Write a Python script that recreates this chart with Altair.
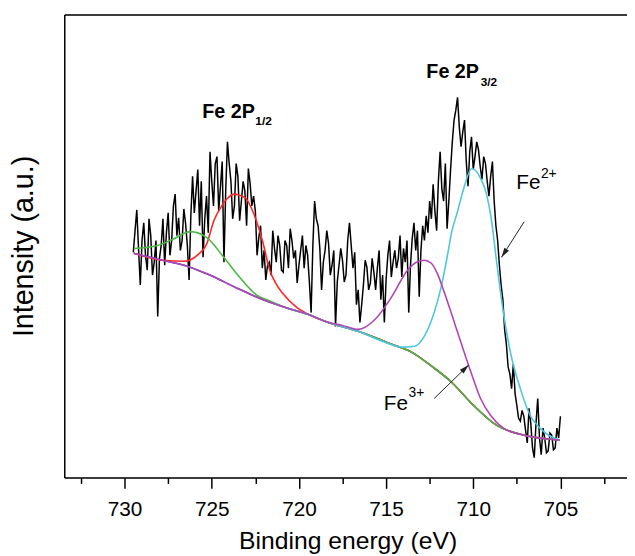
import altair as alt
import pandas as pd

FONT = "Liberation Sans"

# ---- measured spectrum (binding energy in eV, intensity in a.u.) ----
spec_energy = [
    729.5, 729.4, 729.3, 729.2, 729.1, 729.0, 728.9, 728.8, 728.7, 728.6,
    728.5, 728.4, 728.3, 728.2, 728.1, 728.0, 727.9, 727.8, 727.7, 727.6,
    727.5, 727.4, 727.3, 727.2, 727.1, 727.0, 726.9, 726.8, 726.7, 726.6,
    726.5, 726.4, 726.3, 726.2, 726.1, 726.0, 725.9, 725.8, 725.7, 725.6,
    725.5, 725.4, 725.3, 725.2, 725.1, 725.0, 724.9, 724.8, 724.7, 724.6,
    724.5, 724.4, 724.3, 724.2, 724.1, 724.0, 723.9, 723.8, 723.7, 723.6,
    723.5, 723.4, 723.3, 723.2, 723.1, 723.0, 722.9, 722.8, 722.7, 722.6,
    722.5, 722.4, 722.3, 722.2, 722.1, 722.0, 721.9, 721.8, 721.7, 721.6,
    721.5, 721.4, 721.3, 721.2, 721.1, 721.0, 720.9, 720.8, 720.7, 720.6,
    720.5, 720.4, 720.3, 720.2, 720.1, 720.0, 719.9, 719.8, 719.7, 719.6,
    719.5, 719.4, 719.3, 719.2, 719.1, 719.0, 718.9, 718.8, 718.7, 718.6,
    718.5, 718.4, 718.3, 718.2, 718.1, 718.0, 717.9, 717.8, 717.7, 717.6,
    717.5, 717.4, 717.3, 717.2, 717.1, 717.0, 716.9, 716.8, 716.7, 716.6,
    716.5, 716.4, 716.3, 716.2, 716.1, 716.0, 715.9, 715.8, 715.7, 715.6,
    715.5, 715.4, 715.3, 715.2, 715.1, 715.0, 714.9, 714.8, 714.7, 714.6,
    714.5, 714.4, 714.3, 714.2, 714.1, 714.0, 713.9, 713.8, 713.7, 713.6,
    713.5, 713.4, 713.3, 713.2, 713.1, 713.0, 712.9, 712.8, 712.7, 712.6,
    712.5, 712.4, 712.3, 712.2, 712.1, 712.0, 711.9, 711.8, 711.7, 711.6,
    711.5, 711.4, 711.3, 711.2, 711.1, 711.0, 710.9, 710.8, 710.7, 710.6,
    710.5, 710.4, 710.3, 710.2, 710.1, 710.0, 709.9, 709.8, 709.7, 709.6,
    709.5, 709.4, 709.3, 709.2, 709.1, 709.0, 708.9, 708.8, 708.7, 708.6,
    708.5, 708.4, 708.3, 708.2, 708.1, 708.0, 707.9, 707.8, 707.7, 707.6,
    707.5, 707.4, 707.3, 707.2, 707.1, 707.0, 706.9, 706.8, 706.7, 706.6,
    706.5, 706.4, 706.3, 706.2, 706.1, 706.0, 705.9, 705.8, 705.7, 705.6,
    705.5, 705.4, 705.3, 705.2, 705.1, 705.0,
]
spec_intensity = [
    228, 250, 271, 232, 195, 240, 258, 225, 210, 262,
    245, 205, 218, 240, 163, 222, 235, 262, 215, 248,
    268, 225, 240, 275, 287, 245, 263, 230, 240, 272,
    257, 235, 200, 265, 305, 268, 290, 312, 255, 300,
    223, 262, 285, 248, 330, 300, 275, 318, 325, 270,
    295, 320, 218, 290, 340, 318, 300, 262, 275, 318,
    305, 260, 280, 300, 290, 255, 313, 298, 275, 285,
    270, 225, 243, 255, 212, 230, 200, 215, 218, 205,
    250, 232, 218, 245, 235, 210, 208, 240, 235, 212,
    252, 240, 222, 230, 197, 215, 230, 245, 212, 235,
    225, 198, 167, 235, 280, 262, 255, 232, 190, 218,
    230, 250, 237, 205, 215, 230, 153, 198, 215, 232,
    220, 198, 205, 240, 258, 235, 212, 228, 175, 190,
    157, 175, 195, 220, 213, 190, 197, 222, 208, 190,
    212, 230, 180, 205, 157, 200, 225, 240, 203, 218,
    230, 212, 222, 245, 203, 232, 218, 240, 167, 215,
    242, 258, 230, 250, 183, 230, 255, 240, 265, 248,
    280, 262, 297, 270, 250, 300, 330, 292, 280, 318,
    252, 280, 312, 340, 362, 372, 385, 355, 335, 350,
    362, 320, 295, 330, 345, 312, 325, 340, 332, 315,
    302, 325, 318, 300, 285, 305, 320, 280, 255, 240,
    215, 195, 180, 150, 135, 112, 105, 90, 115, 85,
    73, 60, 57, 68, 62, 48, 35, 70, 55, 30,
    20, 55, 80, 40, 23, 50, 40, 25, 27, 45,
    43, 28, 30, 50, 40, 62,
]

# ---- fitted curves ----
base_energy = [729.47, 727.83, 726.24, 725.11, 723.58, 722.05, 720.74, 719.44, 718.47, 716.60, 714.68, 713.54, 712.41, 711.27, 709.98, 708.67, 707.14, 705.04]
base_intensity = [227, 220, 213, 205, 192, 180, 172, 165, 158, 148, 135, 127, 113, 97, 73, 53, 43, 38]

green_energy = [729.47, 728.11, 727.26, 726.24, 725.28, 724.31, 723.41, 722.44, 721.71, 720.74, 719.44, 718.47, 716.60, 714.68, 713.54, 712.41, 711.27, 709.98, 708.67, 707.14, 705.04]
green_intensity = [232, 235, 241, 249, 243, 223, 203, 185, 179, 172, 165, 158, 148, 135, 127, 113, 97, 73, 53, 43, 38]

red_energy = [729.47, 727.83, 726.58, 725.84, 725.28, 724.88, 724.43, 724.14, 723.69, 723.29, 723.01, 722.73, 722.44, 722.05, 721.71, 721.31, 720.91, 720.18, 719.44, 718.47, 716.60, 714.68, 713.54, 712.41, 711.27, 709.98, 708.67, 707.14, 705.04]
red_intensity = [227, 220, 219, 225, 237, 260, 275, 282, 287, 285, 282, 273, 260, 237, 212, 196, 186, 173, 165, 158, 148, 135, 127, 113, 97, 73, 53, 43, 38]

cyan_energy = [720.74, 719.44, 718.47, 716.60, 715.07, 714.11, 713.37, 712.81, 712.24, 711.84, 711.50, 711.22, 710.94, 710.54, 710.09, 709.58, 709.24, 708.95, 708.67, 708.27, 707.87, 707.30, 706.74, 706.17, 705.60, 705.04]
cyan_intensity = [172, 165, 158, 148, 137, 132, 133, 143, 167, 193, 223, 250, 267, 293, 313, 303, 287, 260, 220, 167, 127, 90, 63, 50, 42, 38]

purple_energy = [729.47, 727.83, 726.24, 725.11, 723.58, 722.05, 720.74, 719.44, 718.47, 717.51, 716.60, 715.64, 714.68, 713.77, 713.26, 712.81, 712.41, 712.07, 711.67, 711.27, 710.71, 710.14, 709.58, 709.01, 708.27, 707.14, 705.04]
purple_intensity = [227, 220, 213, 205, 192, 180, 172, 165, 158, 154, 150, 160, 183, 210, 218, 220, 217, 207, 188, 167, 137, 107, 80, 63, 50, 43, 38]

# ---- annotations ----
peak_labels = ["Fe 2P", "Fe 2P"]
peak_label_energy = [725.55, 712.69]
peak_label_intensity = [364, 405]
peak_sub = ["1/2", "3/2"]
peak_sub_energy = [722.50, 709.57]
peak_sub_intensity = [357, 397]

ion_labels = ["Fe", "Fe"]
ion_label_energy = [707.53, 715.13]
ion_label_intensity = [292, 68]
ion_sup = ["2+", "3+"]
ion_sup_energy = [706.12, 713.71]
ion_sup_intensity = [303, 82]

arrow_tail_energy = [707.08, 712.24]
arrow_tail_intensity = [259, 80]
arrow_head_energy = [708.38, 710.26]
arrow_head_intensity = [223, 114]
arrow_angle = [212.6, 45.8]

all_ticks = [732.5, 730, 727.5, 725, 722.5, 720, 717.5, 715, 712.5, 710, 707.5, 705, 702.5]

x_domain = [733.46, 701.18]
y_domain = [0, 469]

xs = alt.Scale(domain=x_domain, nice=False, zero=False)
ys = alt.Scale(domain=y_domain, nice=False, zero=False)

y_axis = alt.Axis(
    title="Intensity (a.u.)", labels=False, ticks=False, grid=False,
    domain=True, domainColor="black", domainWidth=1.5,
    titleFont=FONT, titleFontSize=29, titleFontWeight="normal", titleColor="black",
    titleX=-32, titleY=234.5, titleBaseline="alphabetic",
)
Y = alt.Y("I:Q", scale=ys, axis=y_axis)

x_axis_main = alt.Axis(
    values=all_ticks,
    labelExpr="datum.value % 5 == 0 ? datum.label : ''",
    tickSize={"condition": {"test": "datum.value % 5 != 0", "value": 6}, "value": 11},
    tickWidth=1.5, tickColor="black",
    domainColor="black", domainWidth=1.5, grid=False,
    labelFont=FONT, labelFontSize=21, labelColor="black", labelPadding=11,
    labelFlush=False, labelOverlap=False,
    title="Binding energy (eV)", titleFont=FONT, titleFontSize=25,
    titleFontWeight="normal", titleColor="black",
    titleX=287, titleY=72, titleBaseline="alphabetic",
)
x_axis_top = alt.Axis(orient="top", labels=False, ticks=False, title="", grid=False,
                      domain=True, domainColor="black", domainWidth=1.5)


def df(e, i):
    return pd.DataFrame({"E": e, "I": i})


def X(axis_obj=None):
    if axis_obj is None:
        return alt.X("E:Q", scale=xs, axis=None)
    return alt.X("E:Q", scale=xs, axis=axis_obj)


spectrum = alt.Chart(df(spec_energy, spec_intensity)).mark_line(
    color="black", strokeWidth=1.5
).encode(x=X(x_axis_main), y=Y)


def curve(e, i, color, axis_obj=None):
    return alt.Chart(df(e, i)).mark_line(
        color=color, strokeWidth=1.6, interpolate="monotone"
    ).encode(x=X(axis_obj), y=Y)


blue = curve(base_energy, base_intensity, "#3C3CC8", x_axis_top)
red = curve(red_energy, red_intensity, "#FF2626")
green = curve(green_energy, green_intensity, "#4CB843")
cyan = curve(cyan_energy, cyan_intensity, "#4EC6DE")
purple = curve(purple_energy, purple_intensity, "#B046B6")

peak_text = alt.Chart(pd.DataFrame({"E": peak_label_energy, "I": peak_label_intensity, "t": peak_labels})).mark_text(
    align="left", baseline="alphabetic", font=FONT, fontSize=20, fontWeight="bold", color="black"
).encode(x=X(), y=Y, text="t:N")
peak_sub_text = alt.Chart(pd.DataFrame({"E": peak_sub_energy, "I": peak_sub_intensity, "t": peak_sub})).mark_text(
    align="left", baseline="alphabetic", font=FONT, fontSize=12, fontWeight="bold", color="black"
).encode(x=X(), y=Y, text="t:N")
ion_text = alt.Chart(pd.DataFrame({"E": ion_label_energy, "I": ion_label_intensity, "t": ion_labels})).mark_text(
    align="left", baseline="alphabetic", font=FONT, fontSize=21, color="black"
).encode(x=X(), y=Y, text="t:N")
ion_sup_text = alt.Chart(pd.DataFrame({"E": ion_sup_energy, "I": ion_sup_intensity, "t": ion_sup})).mark_text(
    align="left", baseline="alphabetic", font=FONT, fontSize=14, color="black"
).encode(x=X(), y=Y, text="t:N")

arrows_df = pd.DataFrame({"E": arrow_tail_energy, "I": arrow_tail_intensity,
                          "E2": arrow_head_energy, "I2": arrow_head_intensity})
shafts = alt.Chart(arrows_df).mark_rule(color="#222222", strokeWidth=1).encode(
    x=X(), y=Y, x2="E2:Q", y2="I2:Q")

heads = []
for k in range(len(arrow_angle)):
    heads.append(
        alt.Chart(df([arrow_head_energy[k]], [arrow_head_intensity[k]])).mark_point(
            shape="M0,0L-0.45,1.6L0.45,1.6Z", size=150, filled=True, color="#222222",
            opacity=1, angle=arrow_angle[k]
        ).encode(x=X(), y=Y)
    )

chart = alt.layer(
    spectrum, blue, red, green, cyan, purple,
    peak_text, peak_sub_text, ion_text, ion_sup_text, shafts, *heads
).resolve_axis(x="independent").properties(
    width=570, height=469,
    autosize=alt.AutoSizeParams(type="none"),
    padding={"left": 57, "top": 3, "right": 0, "bottom": 76},
).configure_view(stroke="transparent").configure(font=FONT)

chart.save("out.html", embed_options={"renderer": "svg", "actions": False})
